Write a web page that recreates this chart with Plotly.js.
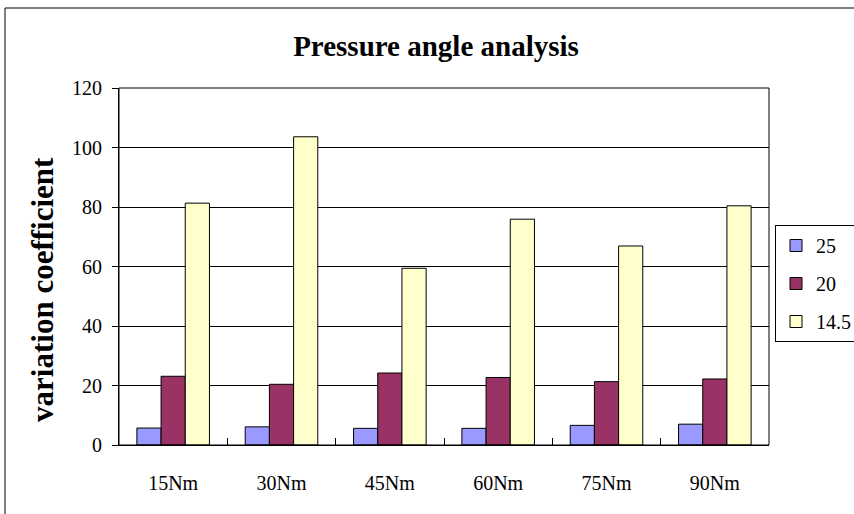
<!DOCTYPE html>
<html>
<head>
<meta charset="utf-8">
<script src="https://cdn.plot.ly/plotly-3.0.1.min.js"></script>
<style>
  html, body { margin: 0; padding: 0; background: #ffffff; }
  #chart { width: 854px; height: 514px; }
</style>
</head>
<body>
<div id="chart"></div>
<script>
const categories = ["15Nm", "30Nm", "45Nm", "60Nm", "75Nm", "90Nm"];
const seriesNames = ["25", "20", "14.5"];
const values25 = [5.7, 6.1, 5.6, 5.6, 6.6, 7.0];
const values20 = [23.1, 20.4, 24.2, 22.7, 21.3, 22.2];
const values145 = [81.3, 103.6, 59.4, 75.9, 66.9, 80.4];
const yTicks = [0, 20, 40, 60, 80, 100, 120];
const colors = ["#9999FF", "#993366", "#FFFFCC"];

const font = "Liberation Serif";
const allValues = [values25, values20, values145];

const traces = allValues.map((vals, i) => ({
  type: "bar",
  name: seriesNames[i],
  x: categories,
  y: vals,
  legendgroup: "g" + i,
  marker: { color: colors[i], line: { color: "#000000", width: 1 } },
  hoverinfo: "x+y+name"
}));

const L = 119, R = 769, T = 88, B = 445;
const W = R - L, H = B - T;
const px = v => (v - L) / W;
const py = v => (B - v) / H;

const layout = {
  width: 854,
  height: 514,
  paper_bgcolor: "#ffffff",
  plot_bgcolor: "#ffffff",
  margin: { l: L, r: 854 - R, t: T, b: 514 - B, pad: 0, autoexpand: false },
  font: { family: font, color: "#000000", size: 20 },
  title: {
    text: "<b>Pressure angle analysis</b>",
    font: { family: font, size: 29, color: "#000000" },
    xref: "container", x: 436 / 854, xanchor: "center",
    yref: "container", y: 1 - 46 / 514, yanchor: "middle"
  },
  barmode: "group",
  bargap: 0.33,
  bargroupgap: 0,
  xaxis: {
    type: "category",
    tickson: "boundaries",
    ticks: "inside",
    ticklen: 7,
    tickcolor: "#000000",
    showline: true,
    linecolor: "#000000",
    linewidth: 1,
    showgrid: false,
    ticklabelstandoff: 20,
    tickfont: { family: font, size: 20, color: "#000000" },
    automargin: false,
    fixedrange: true
  },
  yaxis: {
    range: [0, 120],
    tickvals: yTicks,
    ticktext: yTicks.map(String),
    ticks: "outside",
    ticklen: 6,
    tickcolor: "#000000",
    showline: true,
    linecolor: "#000000",
    linewidth: 1,
    showgrid: true,
    gridcolor: "#000000",
    gridwidth: 1,
    zeroline: false,
    ticklabelstandoff: 6,
    tickfont: { family: font, size: 20, color: "#000000" },
    title: {
      text: "<b>variation coefficient</b>&nbsp;&nbsp;&nbsp;&nbsp;&nbsp;&nbsp;",
      font: { family: font, size: 31, color: "#000000" },
      standoff: 9
    },
    automargin: false,
    fixedrange: true
  },
  showlegend: true,
  legend: {
    x: px(775), xanchor: "left",
    y: py(225), yanchor: "top",
    bgcolor: "#ffffff",
    bordercolor: "#000000",
    borderwidth: 1,
    traceorder: "grouped",
    tracegroupgap: 9,
    font: { family: font, size: 20, color: "#000000" },
    itemwidth: 30
  },
  shapes: [
    {
      type: "rect", xref: "paper", yref: "paper",
      x0: px(5), x1: px(870), y0: py(530), y1: py(8),
      line: { color: "#000000", width: 1 },
      fillcolor: "rgba(0,0,0,0)",
      layer: "below"
    },
    {
      type: "rect", xref: "paper", yref: "paper",
      x0: 0, x1: 1, y0: 0, y1: 1,
      line: { color: "#000000", width: 1 },
      fillcolor: "rgba(0,0,0,0)",
      layer: "above"
    }
  ]
};

Plotly.newPlot("chart", traces, layout, { displayModeBar: false, staticPlot: true });
</script>
</body>
</html>
